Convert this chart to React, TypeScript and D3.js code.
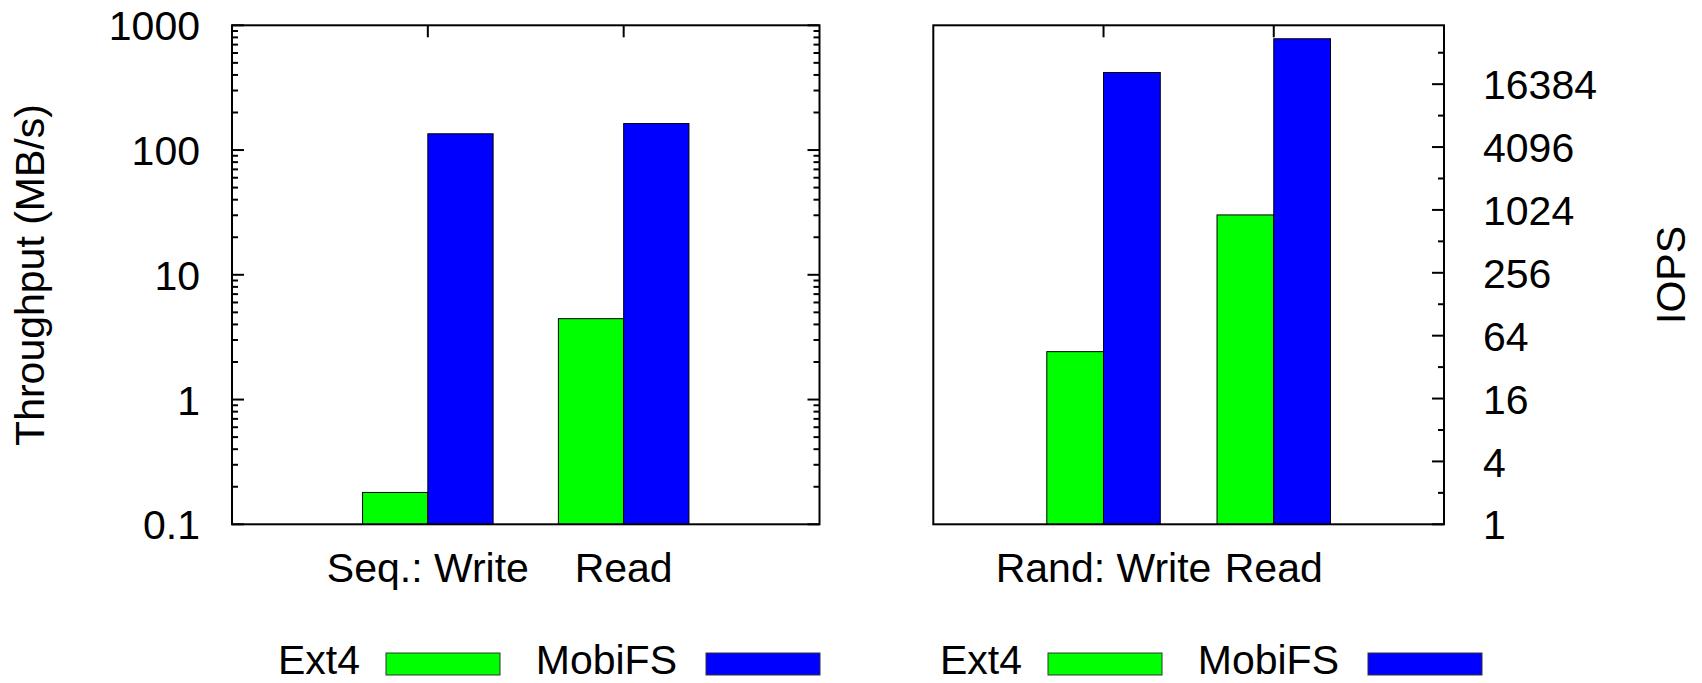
import React, { useRef, useEffect } from 'react';
import { select, scaleLinear, scaleLog } from 'd3';

// categories and values
const seqCategories = ['Seq.: Write', 'Read'];
const randCategories = ['Rand: Write', 'Read'];
const seqExt4 = [0.18, 4.45];
const seqMobiFS = [135, 163];
const randExt4 = [45, 917];
const randMobiFS = [21200, 44600];
const seriesNames = ['Ext4', 'MobiFS'];

// tick labels
const leftTicks = [0.1, 1, 10, 100, 1000];
const leftTickLabels = ['0.1', '1', '10', '100', '1000'];
const rightTicks = [1, 4, 16, 64, 256, 1024, 4096, 16384];
const rightTickLabels = ['1', '4', '16', '64', '256', '1024', '4096', '16384'];

const colors = ['#00ff00', '#0000ff'];
const W = 1702;
const H = 683;
const TOP = 25.3;
const BOTTOM = 524.3;
const FONT = '"Liberation Sans", Arial, Helvetica, sans-serif';
const FS = 41;

function App() {
  const svgRef = useRef<SVGSVGElement>(null);

  useEffect(() => {
    const svg = select(svgRef.current);
    svg.selectAll('*').remove();

    const yLeft = scaleLog().domain([0.1, 1000]).range([BOTTOM, TOP]);
    const yRight = scaleLog().base(4).domain([1, 60000]).range([BOTTOM, TOP]);

    const panels = [
      { x0: 232, x1: 819.5, y: yLeft, cats: seqCategories, vals: [seqExt4, seqMobiFS] },
      { x0: 933.3, x1: 1444, y: yRight, cats: randCategories, vals: [randExt4, randMobiFS] },
    ];

    panels.forEach((p, pi) => {
      const x = scaleLinear().domain([-1, 2]).range([p.x0, p.x1]);
      const g = svg.append('g');
      const bw = 1 / 3;

      // x ticks on top (mirror)
      g.selectAll('.xt')
        .data(p.cats)
        .join('line')
        .attr('x1', (d, i) => x(i))
        .attr('x2', (d, i) => x(i))
        .attr('y1', TOP)
        .attr('y2', TOP + 12)
        .attr('stroke', '#000')
        .attr('stroke-width', 2);

      // bars
      p.vals.forEach((series, si) => {
        g.selectAll(`.bar${si}`)
          .data(series)
          .join('rect')
          .attr('x', (d, i) => x(i - bw + si * bw))
          .attr('width', x(bw) - x(0))
          .attr('y', (d) => p.y(d))
          .attr('height', (d) => BOTTOM - p.y(d))
          .attr('fill', colors[si])
          .attr('stroke', '#000')
          .attr('stroke-width', 1);
      });

      // y ticks
      let majors: number[];
      let minors: number[];
      if (pi === 0) {
        majors = leftTicks;
        minors = yLeft.ticks().filter((t) => !leftTicks.some((m) => Math.abs(m - t) < 1e-9));
      } else {
        majors = rightTicks;
        minors = rightTicks.map((t) => t * 2);
      }
      const sides = pi === 0 ? [p.x0, p.x1] : [p.x1];
      sides.forEach((sx) => {
        const dir = sx === p.x0 ? 1 : -1;
        g.selectAll(null)
          .data(majors)
          .join('line')
          .attr('x1', sx)
          .attr('x2', sx + dir * 12)
          .attr('y1', (d) => p.y(d))
          .attr('y2', (d) => p.y(d))
          .attr('stroke', '#000')
          .attr('stroke-width', 2);
        g.selectAll(null)
          .data(minors)
          .join('line')
          .attr('x1', sx)
          .attr('x2', sx + dir * 6)
          .attr('y1', (d) => p.y(d))
          .attr('y2', (d) => p.y(d))
          .attr('stroke', '#000')
          .attr('stroke-width', 2);
      });

      // frame
      g.append('rect')
        .attr('x', p.x0)
        .attr('y', TOP)
        .attr('width', p.x1 - p.x0)
        .attr('height', BOTTOM - TOP)
        .attr('fill', 'none')
        .attr('stroke', '#000')
        .attr('stroke-width', 2);

      // x labels
      g.selectAll('.xl')
        .data(p.cats)
        .join('text')
        .attr('x', (d, i) => x(i))
        .attr('y', 582.3)
        .attr('text-anchor', 'middle')
        .text((d) => d);

      // y labels
      if (pi === 0) {
        g.selectAll('.yl')
          .data(leftTicks)
          .join('text')
          .attr('x', 200)
          .attr('y', (d) => yLeft(d))
          .attr('dy', '0.37em')
          .attr('text-anchor', 'end')
          .text((d, i) => leftTickLabels[i]);
      } else {
        g.selectAll('.yl')
          .data(rightTicks)
          .join('text')
          .attr('x', 1483)
          .attr('y', (d) => yRight(d))
          .attr('dy', '0.37em')
          .attr('text-anchor', 'start')
          .text((d, i) => rightTickLabels[i]);
      }

      // legend
      const off = pi * 662;
      const lg = svg.append('g').attr('transform', `translate(${off},0)`);
      const textEnds = [360, 677];
      const boxStarts = [386, 706];
      seriesNames.forEach((name, si) => {
        lg.append('text')
          .attr('x', textEnds[si])
          .attr('y', 674)
          .attr('text-anchor', 'end')
          .text(name);
        lg.append('rect')
          .attr('x', boxStarts[si])
          .attr('y', 653)
          .attr('width', 114)
          .attr('height', 22)
          .attr('fill', colors[si])
          .attr('stroke', '#333')
          .attr('stroke-width', 1);
      });
    });

    // axis titles
    svg.append('text')
      .attr('transform', `translate(43.5,275) rotate(-90)`)
      .attr('text-anchor', 'middle')
      .text('Throughput (MB/s)');
    svg.append('text')
      .attr('transform', `translate(1685,275) rotate(-90)`)
      .attr('text-anchor', 'middle')
      .text('IOPS');

    svg.selectAll('text').attr('font-family', FONT).attr('font-size', FS).attr('fill', '#000');
  }, []);

  return (
    <svg
      ref={svgRef}
      width={W}
      height={H}
      style={{ position: 'absolute', left: 0, top: 0, background: '#fff' }}
    />
  );
}

export default App;
